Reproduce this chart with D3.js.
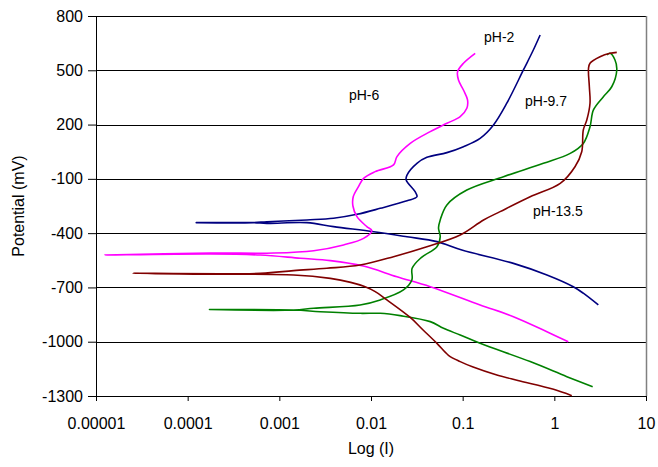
<!DOCTYPE html>
<html>
<head>
<meta charset="utf-8">
<script src="https://cdn.jsdelivr.net/npm/d3@7"></script>
<style>
    body { margin: 0; background: #fff; }
    svg { display: block; font-family: "Liberation Sans", Arial, sans-serif; }
</style>
</head>
<body>
<svg id="chart" width="658" height="467"></svg>
<script>
'use strict';

// current (I) and potential (mV) pairs
// each curve: cathodic end -> corrosion point -> anodic end
var pH2 = [
    [3.02, -797], [2.07, -732], [1.61, -696], [0.83, -631], [0.358, -567],
    [0.098, -493], [0.0524, -447], [0.0247, -420], [0.0107, -392], [0.0039, -364],
    [0.0020, -342], [0.00073, -346], [0.00052, -342], [0.000124, -342],
    [0.00052, -342], [0.00073, -337], [0.0020, -327], [0.0039, -318], [0.00703, -296],
    [0.0126, -263], [0.0247, -221], [0.0317, -199], [0.0303, -171], [0.0242, -106],
    [0.0247, -79], [0.0317, -14], [0.0407, 19], [0.0673, 45], [0.102, 78],
    [0.155, 124], [0.217, 198], [0.303, 318], [0.46, 502], [0.59, 612], [0.70, 695]
];

var pH6 = [
    [1.42, -1000], [0.83, -945], [0.358, -862], [0.155, -797], [0.0443, -696],
    [0.0192, -641], [0.00824, -582], [0.0036, -552], [0.0017, -539], [0.00062, -521],
    [0.000177, -515], [0.0000125, -521],
    [0.000177, -510], [0.00087, -510], [0.00237, -497], [0.00502, -465], [0.0083, -429],
    [0.0102, -386], [0.0090, -364], [0.00703, -309], [0.00635, -250], [0.0064, -199],
    [0.0073, -143], [0.0083, -97], [0.0111, -60], [0.0176, -23], [0.0192, 23],
    [0.0268, 96], [0.0443, 161], [0.0673, 207], [0.094, 244], [0.111, 290],
    [0.113, 336], [0.102, 391], [0.090, 446], [0.088, 492], [0.102, 539], [0.137, 594]
];

var pH97 = [
    [2.62, -1249], [1.37, -1193], [0.545, -1110], [0.155, -1009], [0.094, -963],
    [0.0618, -926], [0.0443, -889], [0.0208, -856], [0.0126, -843], [0.0076, -843],
    [0.0028, -834], [0.00143, -825], [0.000173, -822],
    [0.00143, -825], [0.00237, -815], [0.0076, -797], [0.0126, -769], [0.0226, -714],
    [0.0279, -659], [0.0281, -594], [0.0353, -535], [0.0524, -475], [0.0569, -420],
    [0.0545, -372], [0.0569, -327], [0.0673, -244], [0.111, -162], [0.279, -88],
    [0.76, -14], [1.49, 41], [2.07, 96], [2.45, 188], [2.67, 281], [3.43, 354],
    [4.23, 409], [4.80, 502], [4.59, 557], [4.05, 594], [3.75, 585]
];

var pH135 = [
    [1.55, -1298], [0.98, -1263], [0.40, -1214], [0.236, -1184], [0.13, -1140],
    [0.094, -1110], [0.07, -1075], [0.0524, -1009], [0.037, -935], [0.0268, -866],
    [0.0149, -769], [0.0110, -722], [0.0085, -695], [0.0060, -672], [0.0036, -650],
    [0.00143, -631], [0.000116, -627], [0.0000252, -622],
    [0.00062, -622], [0.00143, -607], [0.0033, -594], [0.0076, -576], [0.0176, -530],
    [0.0407, -475], [0.094, -410], [0.169, -327], [0.256, -281], [0.545, -199],
    [1.16, -125], [1.68, -33], [1.99, 50], [2.07, 170], [2.26, 225], [2.45, 318],
    [2.41, 409], [2.36, 511], [2.45, 539], [3.15, 575], [4.05, 594], [4.80, 599]
];

var yTicks = [-1300, -1000, -700, -400, -100, 200, 500, 800];
var xTicks = [0.00001, 0.0001, 0.001, 0.01, 0.1, 1, 10];
var xTickLabels = ["0.00001", "0.0001", "0.001", "0.01", "0.1", "1", "10"];

var series = [
    { name: "pH-2",    values: pH2,   color: "#000080" },
    { name: "pH-6",    values: pH6,   color: "#ff00ff" },
    { name: "pH-9.7",  values: pH97,  color: "#008000" },
    { name: "pH-13.5", values: pH135, color: "#800000" }
];

/*==============================
=            Layout            =
==============================*/
var margin = { top: 16, right: 12, bottom: 71, left: 96 };
var width  = 658 - margin.left - margin.right;
var height = 467 - margin.top - margin.bottom;

var svg = d3.select("#chart");
var g = svg.append("g")
    .attr("transform", "translate(" + margin.left + "," + margin.top + ")");

var x = d3.scaleLog().domain([0.00001, 10]).range([0, width]);
var y = d3.scaleLinear().domain([-1300, 800]).range([height, 0]);

// horizontal gridlines
g.append("g")
    .selectAll("line")
    .data(yTicks)
    .enter().append("line")
        .attr("x1", 0)
        .attr("x2", width)
        .attr("y1", function(d) { return Math.round(y(d)) + 0.5; })
        .attr("y2", function(d) { return Math.round(y(d)) + 0.5; })
        .attr("stroke", "#000")
        .attr("stroke-width", 1);

// right border
g.append("line")
    .attr("x1", width + 0.5).attr("x2", width + 0.5)
    .attr("y1", 0).attr("y2", height)
    .attr("stroke", "#808080")
    .attr("stroke-width", 1.5);

/*============================
=            Axes            =
============================*/
var yAxis = d3.axisLeft(y)
    .tickValues(yTicks)
    .tickSize(8)
    .tickSizeOuter(0)
    .tickPadding(5)
    .tickFormat(function(d) { return String(d); });

var xAxis = d3.axisBottom(x)
    .tickValues(xTicks)
    .tickSize(5)
    .tickSizeOuter(0)
    .tickPadding(17)
    .tickFormat(function(d, i) { return xTickLabels[i]; });

var ya = g.append("g").call(yAxis);
var xa = g.append("g").attr("transform", "translate(0," + height + ")").call(xAxis);

[ya, xa].forEach(function(a) {
    a.selectAll("path, line").attr("stroke", "#000");
    a.selectAll("text")
        .attr("fill", "#000")
        .style("font-size", "16px")
        .style("font-family", "'Liberation Sans', Arial, sans-serif");
});

// axis titles
svg.append("text")
    .attr("transform", "translate(24," + (margin.top + height / 2) + ") rotate(-90)")
    .attr("text-anchor", "middle")
    .style("font-size", "16px")
    .text("Potential (mV)");

svg.append("text")
    .attr("x", margin.left + width / 2)
    .attr("y", 454)
    .attr("text-anchor", "middle")
    .style("font-size", "16px")
    .text("Log (I)");

/*=============================
=            Lines            =
=============================*/
var line = d3.line()
    .curve(d3.curveCatmullRom.alpha(0.5))
    .x(function(d) { return x(d[0]); })
    .y(function(d) { return y(d[1]); });

g.selectAll(".curve")
    .data(series)
    .enter().append("path")
        .attr("class", "curve")
        .attr("fill", "none")
        .attr("stroke", function(d) { return d.color; })
        .attr("stroke-width", 1.6)
        .attr("stroke-linejoin", "round")
        .attr("d", function(d) { return line(d.values); });

// curve labels, placed next to each curve
var labels = [
    { text: "pH-2",    xv: 0.171,   yv: 655 },
    { text: "pH-6",    xv: 0.00575, yv: 335 },
    { text: "pH-9.7",  xv: 0.479,   yv: 305 },
    { text: "pH-13.5", xv: 0.585,   yv: -303 }
];

g.selectAll(".lbl")
    .data(labels)
    .enter().append("text")
        .attr("class", "lbl")
        .attr("x", function(d) { return x(d.xv); })
        .attr("y", function(d) { return y(d.yv); })
        .style("font-size", "14px")
        .text(function(d) { return d.text; });
</script>
</body>
</html>
